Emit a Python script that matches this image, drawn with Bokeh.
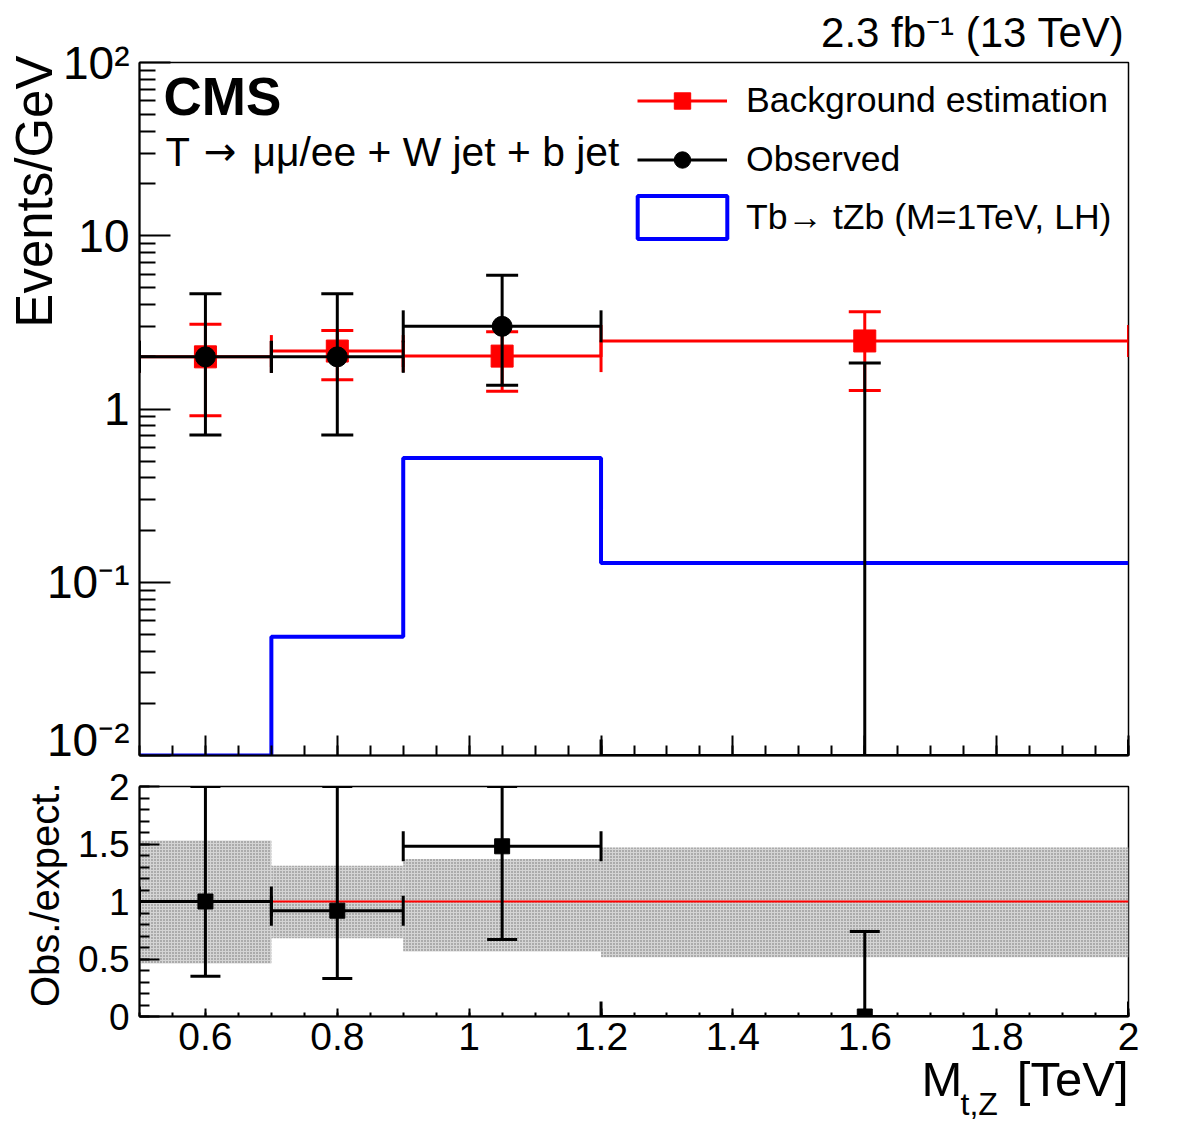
import numpy as np
from bokeh.plotting import figure
from bokeh.layouts import column
from bokeh.models import (ColumnDataSource, Label, Legend, LegendItem, Title,
                          FixedTicker, CustomJSTickFormatter)
from bokeh.embed import file_html
from bokeh.resources import INLINE

FONT = "Liberation Sans"

# ---------------- data ----------------
bin_lo = [0.5, 0.7, 0.9, 1.2]
bin_hi = [0.7, 0.9, 1.2, 2.0]
bin_x = [0.6, 0.8, 1.05, 1.6]

bkg = [2.0, 2.16, 2.02, 2.47]          # background estimation (Events/GeV)
bkg_hi = [3.08, 2.84, 2.79, 3.64]      # upper edge of error bar
bkg_lo = [0.915, 1.475, 1.265, 1.28]   # lower edge of error bar

obs = [2.0, 2.0, 3.0, 0.0]             # observed
obs_hi = [4.62, 4.62, 5.92, 1.84]
obs_lo = [0.708, 0.708, 1.37, 0.0]

sig = [0.0, 0.0485, 0.522, 0.129]      # Tb -> tZb (M=1TeV, LH)

ratio = [1.0, 0.92, 1.48, 0.0]         # obs./expect.
ratio_hi = [2.31, 2.16, 2.93, 0.74]
ratio_lo = [0.35, 0.33, 0.67, 0.0]
ratio_ref = [1.0]

band_hi = [1.53, 1.31, 1.37, 1.47]     # background uncertainty band
band_lo = [0.46, 0.68, 0.565, 0.515]

x_ticks = [0.6, 0.8, 1.0, 1.2, 1.4, 1.6, 1.8, 2.0]
y_ticks_top = [0.01, 0.1, 1, 10, 100]
y_ticks_ratio = [0, 0.5, 1, 1.5, 2]

X_RANGE = (0.5, 2.0)
Y_TOP = (0.01, 100)
Y_RATIO = (0, 2)

# ---------------- layout ----------------
W = 1182
L, R = 139, 54
TOP_H = 765
BOT_H = 1134 - TOP_H

nan = np.nan
minor_x = [round(v, 2) for v in np.arange(0.5, 2.0001, 0.05)]
minor_log = [m * 10.0 ** e for e in range(-2, 2) for m in range(2, 10)]
minor_ratio = [round(v, 2) for v in np.arange(0.0, 2.0001, 0.1)]

lin_fmt = CustomJSTickFormatter(code="return String(Math.round(tick*100)/100);")
log_fmt = CustomJSTickFormatter(code="""
const e = Math.round(Math.log10(tick));
if (e === 0) return "1";
if (e === 1) return "10";
const sup = {"-": "\u207b", "0": "\u2070", "1": "\u00b9", "2": "\u00b2", "3": "\u00b3"};
return "10" + String(e).split("").map(c => sup[c]).join("");
""")
blank_fmt = CustomJSTickFormatter(code="return '';")


def style_axis(ax, major_in, minor_in, fs, standoff):
    ax.major_tick_in = major_in
    ax.major_tick_out = 0
    ax.minor_tick_in = minor_in
    ax.minor_tick_out = 0
    ax.axis_line_width = 2
    ax.major_tick_line_width = 2
    ax.minor_tick_line_width = 2
    ax.axis_line_color = "black"
    ax.major_tick_line_color = "black"
    ax.minor_tick_line_color = "black"
    ax.major_label_text_font = FONT
    ax.major_label_text_font_size = fs
    ax.major_label_text_color = "black"
    ax.major_label_standoff = standoff


def base_fig(h, y_range, y_type, top, bottom):
    f = figure(width=W, height=h, x_range=X_RANGE, y_range=y_range, y_axis_type=y_type,
               output_backend="svg", toolbar_location=None,
               min_border_left=L, min_border_right=R, min_border_top=top,
               min_border_bottom=bottom)
    f.grid.visible = False
    f.outline_line_color = "black"
    f.outline_line_width = 1.5
    f.background_fill_color = "white"
    f.border_fill_color = "white"
    return f


def errbars(f, src, color, lw, cap, marker, msize):
    h = f.segment(x0="lo", y0="yb", x1="hi", y1="yb", source=src, line_color=color, line_width=lw)
    f.segment(x0="x", y0="ylo", x1="x", y1="yhi", source=src, line_color=color, line_width=lw)
    f.scatter(x="x", y="yhi", source=src, marker="dash", size=cap, line_color=color, line_width=lw)
    f.scatter(x="x", y="ycap_lo", source=src, marker="dash", size=cap, line_color=color, line_width=lw)
    f.scatter(x="lo", y="yb", source=src, marker="dash", angle=np.pi / 2, size=cap,
              line_color=color, line_width=lw)
    f.scatter(x="hi", y="yb", source=src, marker="dash", angle=np.pi / 2, size=cap,
              line_color=color, line_width=lw)
    m = f.scatter(x="x", y="ym", source=src, marker=marker, size=msize,
                  fill_color=color, line_color=color)
    return h, m


def text(fig, x, y, s, size, font=FONT, style="normal", align="left"):
    fig.add_layout(Label(x=x, y=y, x_units="screen", y_units="screen", text=s,
                         text_font=font, text_font_size=size, text_font_style=style,
                         text_baseline="alphabetic", text_align=align, text_color="black"))


def side_title(fig, s, place, size, align, offset, standoff, valign="bottom"):
    fig.add_layout(Title(text=s, align=align, offset=offset, standoff=standoff,
                         vertical_align=valign, text_font=FONT, text_font_size=size,
                         text_font_style="normal", text_color="black"), place)


# ================= top panel =================
p = base_fig(TOP_H, Y_TOP, "log", 61, 10)
p.xaxis.ticker = FixedTicker(ticks=x_ticks, minor_ticks=minor_x)
p.xaxis.formatter = blank_fmt
style_axis(p.xaxis[0], 20, 10, "0px", 0)
p.yaxis.ticker = FixedTicker(ticks=y_ticks_top, minor_ticks=minor_log)
p.yaxis.formatter = log_fmt
style_axis(p.yaxis[0], 31, 16, "46px", 10)

p.title.text = "2.3 fb\u207b\u00b9 (13 TeV)"
p.title.align = "right"
p.title.text_font = FONT
p.title.text_font_size = "42px"
p.title.text_font_style = "normal"
p.title.text_color = "black"
p.title.offset = 4
p.title.standoff = 13

side_title(p, "Events/GeV", "left", "51px", "right", -7, -36)

ymin = Y_TOP[0]

# signal histogram (step outline)
sig_plot = list(np.maximum(np.array(sig), ymin))
p.step(x=bin_lo + [bin_hi[-1]], y=sig_plot + [sig_plot[-1]], mode="after",
       line_color="#0000ff", line_width=4)
# hidden box version of the signal, only used for its legend swatch
sig_box = p.quad(left=bin_lo, right=bin_hi, bottom=[ymin] * len(sig), top=sig_plot,
                 fill_color="white", line_color="#0000ff", line_width=4, visible=False)

# background estimation
src_b = ColumnDataSource(dict(
    x=bin_x, lo=bin_lo, hi=bin_hi, yb=bkg, ym=bkg, yhi=bkg_hi, ylo=bkg_lo, ycap_lo=bkg_lo))
hb, mb = errbars(p, src_b, "#ff0000", 3, 32, "square", 22)

# observed
obs_a = np.array(obs, dtype=float)
obs_lo_a = np.array(obs_lo, dtype=float)
src_o = ColumnDataSource(dict(
    x=np.array(bin_x), lo=np.array(bin_lo), hi=np.array(bin_hi),
    yb=np.maximum(obs_a, ymin),
    ym=np.where(obs_a > 0, obs_a, nan),
    yhi=np.array(obs_hi, dtype=float),
    ylo=np.maximum(obs_lo_a, ymin),
    ycap_lo=np.where(obs_lo_a > 0, obs_lo_a, nan)))
ho, mo = errbars(p, src_o, "black", 3, 32, "circle", 20)


def make_legend(items, loc, gw, gh, standoff):
    lg = Legend(items=items, location=loc)
    lg.label_text_font = FONT
    lg.label_text_font_size = "35.6px"
    lg.label_text_color = "black"
    lg.glyph_width = gw
    lg.glyph_height = gh
    lg.label_standoff = standoff
    lg.spacing = 18
    lg.padding = 0
    lg.margin = 0
    lg.background_fill_alpha = 0
    lg.border_line_alpha = 0
    lg.inactive_fill_alpha = 0
    p.add_layout(lg, "center")


make_legend([LegendItem(label="Background estimation", renderers=[hb, mb]),
             LegendItem(label="Observed", renderers=[ho, mo])],
            (498, 575), 90, 41, 19)
make_legend([LegendItem(label="Tb\u2192 tZb (M=1TeV, LH)", renderers=[sig_box])],
            (487, 511), 112, 54, 8)

# texts inside the frame (screen units relative to the frame's bottom-left corner)
text(p, 24, 659, "CMS", "53px", style="bold")
text(p, 26, 604, "T", "40px")
text(p, 64, 604, "\u2192", "39px", font="DejaVu Sans")
text(p, 113, 604, "\u03bc\u03bc/ee + W jet + b jet", "40.8px")

# ================= ratio panel =================
q = base_fig(BOT_H, Y_RATIO, "linear", 21, BOT_H - 21 - 230)
q.title.text = ""
q.xaxis.ticker = FixedTicker(ticks=x_ticks, minor_ticks=minor_x)
q.xaxis.formatter = lin_fmt
style_axis(q.xaxis[0], 8, 4, "39px", 6)
q.yaxis.ticker = FixedTicker(ticks=y_ticks_ratio, minor_ticks=minor_ratio)
q.yaxis.formatter = lin_fmt
style_axis(q.yaxis[0], 20, 10, "37px", 10)
side_title(q, "Obs./expect.", "left", "40px", "right", -4, 17)
# x-axis title: M_{t,Z} [TeV]
side_title(q, "M\u00a0\u00a0\u00a0\u00a0[TeV]", "below", "49px", "right", 0, -6)
side_title(q, "t,Z", "below", "32px", "left", 821, -37)

q.quad(left=bin_lo, right=bin_hi, bottom=band_lo, top=band_hi,
       fill_color="#d4d4d4", line_alpha=0,
       hatch_pattern="dot", hatch_color="#6e6e6e", hatch_scale=3, hatch_weight=1.3)
q.hspan(y=ratio_ref, line_color="#ff0000", line_width=2)

r_a = np.array(ratio, dtype=float)
r_lo_a = np.array(ratio_lo, dtype=float)
src_r = ColumnDataSource(dict(
    x=np.array(bin_x), lo=np.array(bin_lo), hi=np.array(bin_hi),
    yb=r_a, ym=r_a,
    yhi=np.minimum(np.array(ratio_hi, dtype=float), Y_RATIO[1]),
    ylo=r_lo_a,
    ycap_lo=np.where(r_lo_a > 0, r_lo_a, nan)))
errbars(q, src_r, "black", 3, 30, "square", 15)

layout = column(p, q, spacing=0)
open("out.html", "w").write(file_html(layout, INLINE))
